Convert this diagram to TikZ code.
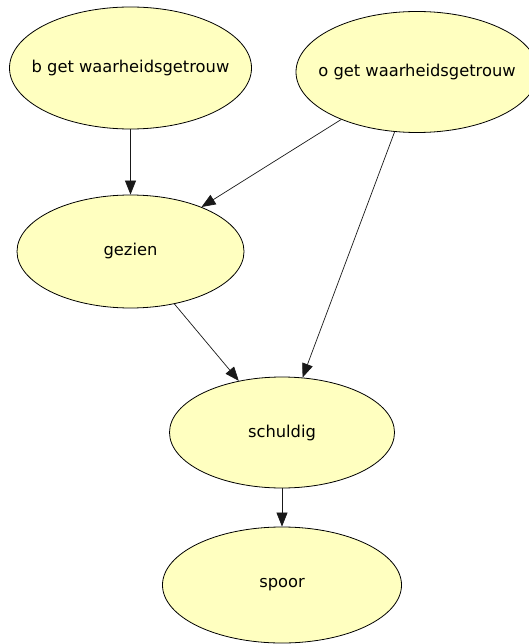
\documentclass[tikz,border=0pt]{standalone}
\usepackage{fontspec}
\setmainfont{DejaVu Sans}
\usetikzlibrary{shapes.geometric,arrows.meta}
\definecolor{nodefill}{RGB}{255,255,192}
\begin{document}
\begin{tikzpicture}[x=1pt,y=-1pt,
  varnode/.style={ellipse, draw=black, line width=0.8pt, fill=nodefill,
    inner sep=0pt, font=\fontsize{16.3}{19}\selectfont},
  link/.style={draw=black!90, line width=0.7pt,
    -{Triangle[length=14pt,width=11pt]}}]
\useasboundingbox (0,0) rectangle (528,644);
% variables of the network
\node[varnode, minimum width=242pt, minimum height=122pt] (b) at (130.5,68)
  {\makebox[0pt]{b get waarheidsgetrouw}};
\node[varnode, minimum width=242pt, minimum height=121pt] (o) at (417,72)
  {\makebox[0pt]{o get waarheidsgetrouw}};
\node[varnode, minimum width=227pt, minimum height=113pt] (g) at (130.5,251.5)
  {\makebox[0pt]{gezien}};
\node[varnode, minimum width=225pt, minimum height=111pt] (s) at (282,432.5)
  {\makebox[0pt]{schuldig}};
\node[varnode, minimum width=239pt, minimum height=116pt] (p) at (282,585)
  {\makebox[0pt]{spoor}};
% dependencies
\draw[link] (b) -- (g);
\draw[link] (o) -- (g);
\draw[link] (o) -- (s);
\draw[link] (g) -- (s);
\draw[link] (s) -- (p);
\end{tikzpicture}
\end{document}
